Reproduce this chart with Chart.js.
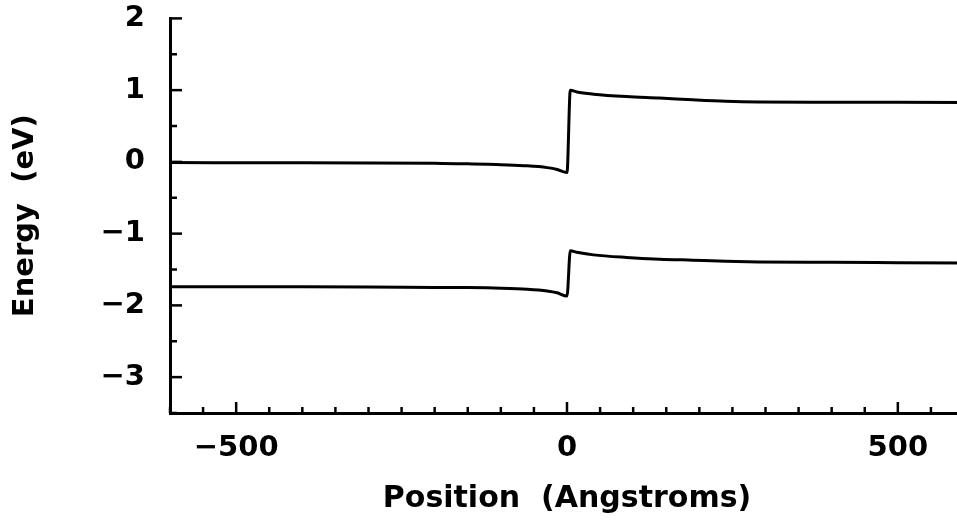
<!DOCTYPE html>
<html>
<head>
<meta charset="utf-8">
<title>Band edges</title>
<script src="https://cdn.jsdelivr.net/npm/chart.js@4/dist/chart.umd.min.js"></script>
<style>
    html, body { margin: 0; padding: 0; background: #fff; overflow: hidden; }
    /* the y axis reserves label padding above the plot, so pull the canvas up */
    #wrap { width: 982px; height: 547px; margin-top: -24px; }
</style>
</head>
<body>
<div id="wrap"><canvas id="bandChart"></canvas></div>
<script>
// positions in Angstroms, band edges in eV
const positions = [-600, -400, -300, -200, -150, -100, -60, -30, -15, 0, 5, 15, 40, 90, 140, 190, 240, 290, 400, 500, 600];
const conduction = [-0.01, -0.012, -0.015, -0.02, -0.025, -0.04, -0.055, -0.08, -0.105, -0.148, 1.0, 0.975, 0.944, 0.91, 0.89, 0.866, 0.846, 0.836, 0.832, 0.83, 0.828];
const valence = [-1.74, -1.742, -1.745, -1.75, -1.752, -1.76, -1.775, -1.8, -1.825, -1.87, -1.24, -1.26, -1.296, -1.332, -1.356, -1.37, -1.384, -1.394, -1.4, -1.405, -1.41];

const xLabels = [-500, 0, 500];
const yLabels = [-3, -2, -1, 0, 1, 2];

const FONT = 'DejaVu Sans';

function fmt(v) {
    return v < 0 ? '\u2212' + Math.abs(v) : String(v);
}

function toPoints(ys) {
    return positions.map((x, i) => ({ x: x, y: ys[i] }));
}

// tick marks point into the plot, long on labelled values
const inwardTicks = {
    id: 'inwardTicks',
    afterDatasetsDraw(chart) {
        const { ctx, chartArea, scales: { x, y } } = chart;
        ctx.save();
        ctx.strokeStyle = '#000';
        ctx.lineWidth = 2.5;
        x.ticks.forEach(t => {
            const px = x.getPixelForValue(t.value);
            const len = xLabels.includes(t.value) ? 11 : 6;
            ctx.beginPath();
            ctx.moveTo(px, chartArea.bottom);
            ctx.lineTo(px, chartArea.bottom - len);
            ctx.stroke();
        });
        y.ticks.forEach(t => {
            const py = y.getPixelForValue(t.value);
            const len = yLabels.includes(t.value) ? 12 : 7;
            ctx.beginPath();
            ctx.moveTo(chartArea.left, py);
            ctx.lineTo(chartArea.left + len, py);
            ctx.stroke();
        });
        ctx.restore();
    }
};

const lineStyle = {
    borderColor: '#000',
    borderWidth: 3,
    pointRadius: 0,
    fill: false,
    cubicInterpolationMode: 'monotone'
};

new Chart(document.getElementById('bandChart'), {
    type: 'line',
    data: {
        datasets: [
            Object.assign({ label: 'Conduction band', data: toPoints(conduction) }, lineStyle),
            Object.assign({ label: 'Valence band', data: toPoints(valence) }, lineStyle)
        ]
    },
    options: {
        responsive: true,
        maintainAspectRatio: false,
        animation: false,
        layout: { padding: 0 },
        plugins: {
            legend: { display: false },
            tooltip: { enabled: false }
        },
        scales: {
            x: {
                type: 'linear',
                min: -600,
                max: 600,
                grid: { display: false, drawTicks: false },
                border: { display: true, color: '#000', width: 3 },
                ticks: {
                    stepSize: 50,
                    autoSkip: false,
                    maxRotation: 0,
                    padding: 18,
                    color: '#000',
                    font: { family: FONT, size: 29, weight: 'bold' },
                    callback: v => xLabels.includes(v) ? fmt(v) : ''
                },
                title: {
                    display: true,
                    text: 'Position  (Angstroms)',
                    color: '#000',
                    font: { family: FONT, size: 30, weight: 'bold' },
                    padding: { top: 0, bottom: 6 }
                },
                afterFit: s => { s.height = 110; }
            },
            y: {
                min: -3.5,
                max: 2,
                grid: { display: false, drawTicks: false },
                border: { display: true, color: '#000', width: 3 },
                ticks: {
                    stepSize: 0.5,
                    autoSkip: false,
                    padding: 25,
                    color: '#000',
                    font: { family: FONT, size: 29, weight: 'bold' },
                    callback: v => yLabels.includes(v) ? fmt(v) : ''
                },
                title: {
                    display: true,
                    text: 'Energy  (eV)',
                    color: '#000',
                    font: { family: FONT, size: 29, weight: 'bold' },
                    padding: { top: 8, bottom: 0 }
                },
                afterFit: s => { s.width = 170; }
            }
        }
    },
    plugins: [inwardTicks]
});
</script>
</body>
</html>
